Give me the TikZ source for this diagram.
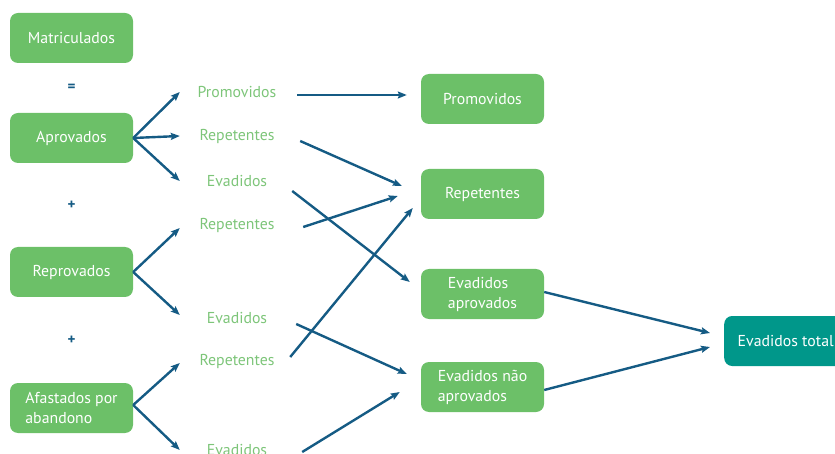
\documentclass[tikz,border=0pt]{standalone}
\usepackage{fontspec}
\setmainfont{PT Sans}
\usetikzlibrary{calc}
\usetikzlibrary{arrows.meta}

\definecolor{boxgreen}{HTML}{6CC068}
\definecolor{labelgreen}{HTML}{7DC579}
\definecolor{flowblue}{HTML}{155B84}
\definecolor{totalteal}{HTML}{00978A}

\begin{document}
\begin{tikzpicture}[x=1pt,y=-1pt,
    box/.style={fill=boxgreen,rounded corners=8pt,minimum width=123pt,minimum height=50pt,
        inner sep=0pt,text=white,align=left,font=\fontsize{15.8}{20}\selectfont},
    label/.style={text=labelgreen,minimum width=114pt,minimum height=20pt,inner sep=0pt,
        font=\fontsize{15.8}{20}\selectfont},
    sign/.style={text=flowblue,font=\fontsize{15}{20}\selectfont\bfseries},
    flow/.style={draw=flowblue,line width=2.4pt,-{Stealth[length=9pt,width=7pt,inset=1.5pt]}}]
\useasboundingbox (0,0) rectangle (835,454);

% left column
\node[box] (matr) at (71.5,38) {Matriculados};
\node[sign] (eq) at (71.5,88) {=};
\node[box] (apr) at (71.5,138) {Aprovados};
\node[sign] (plusa) at (71.5,205) {+};
\node[box] (repr) at (71.5,272) {Reprovados};
\node[sign] (plusb) at (71.5,340) {+};
\node[box] (afa) at (71.5,408) {Afastados por\\abandono};

% middle labels
\node[label] (mprom) at (237,92) {Promovidos};
\node[label] (mrepa) at (237,136) {Repetentes};
\node[label] (meva) at (237,181) {Evadidos};
\node[label] (mrepb) at (237,225) {Repetentes};
\node[label] (mevb) at (237,318) {Evadidos};
\node[label] (mrepc) at (237,361) {Repetentes};
\node[label] (mevc) at (237,450) {Evadidos};

% right column
\node[box] (rprom) at (482.5,99) {Promovidos};
\node[box] (rrep) at (482.5,194) {Repetentes};
\node[box] (revap) at (482.5,294) {Evadidos\\aprovados};
\node[box] (revna) at (482.5,387) {Evadidos não\\aprovados};
\node[box,fill=totalteal,anchor=west] (total) at (724,341) {Evadidos total};

\newcommand{\flowedge}[2]{
    \draw[flow] #1 -- #2;
}

\flowedge{(apr.east)}{(mprom.west)}
\flowedge{(apr.east)}{(mrepa.west)}
\flowedge{(apr.east)}{(meva.west)}
\flowedge{(repr.east)}{($(mrepb.west)+(0,3)$)}
\flowedge{(repr.east)}{($(mevb.west)+(0,-3)$)}
\flowedge{($(afa.east)+(0,-3)$)}{($(mrepc.west)+(0,2)$)}
\flowedge{($(afa.east)+(0,-3)$)}{(mevc.west)}

\flowedge{($(mprom.east)+(3,3)$)}{($(rprom.west)+(-14,-4)$)}
\flowedge{($(mrepa.east)+(6,5)$)}{($(rrep.west)+(-19,-8)$)}
\flowedge{($(meva.east)+(-2,10)$)}{($(revap.west)+(-11,-12)$)}
\flowedge{($(mrepb.east)+(9,2)$)}{($(rrep.west)+(-23,2)$)}
\flowedge{($(mevb.east)+(2,6)$)}{($(revna.west)+(-14,-13)$)}
\flowedge{($(mrepc.east)+(-4,-4)$)}{($(rrep.west)+(-8,14)$)}
\flowedge{($(mevc.east)+(8,2)$)}{($(revna.west)+(-21,5)$)}

\flowedge{($(revap.east)+(0,-2)$)}{($(total.west)+(-14,-8)$)}
\flowedge{($(revna.east)+(0,3)$)}{($(total.west)+(-14,6)$)}
\end{tikzpicture}
\end{document}
